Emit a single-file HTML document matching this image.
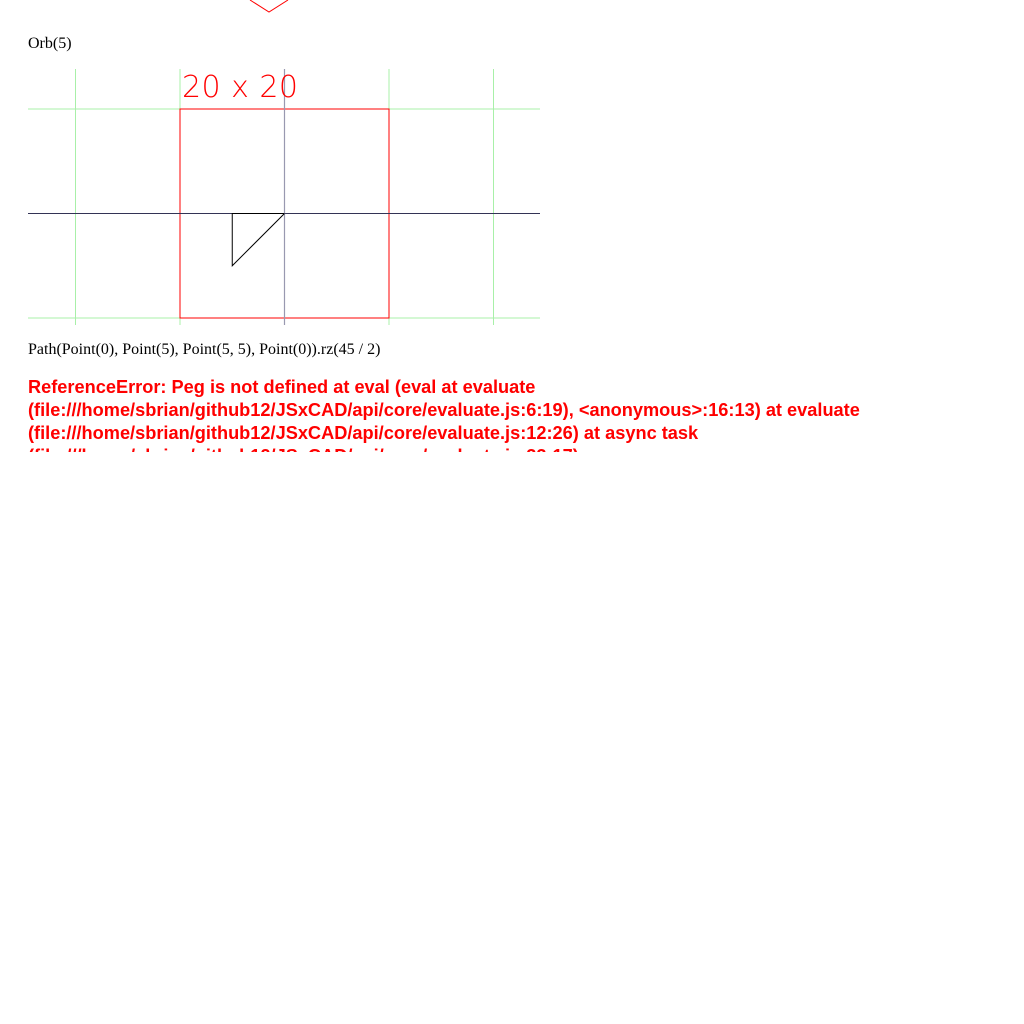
<!DOCTYPE html>
<html><head><meta charset="utf-8"><style>
html,body{margin:0;padding:0;background:#fff;width:1024px;height:1024px;overflow:hidden}
.t{position:absolute;left:28px;font-family:"Liberation Serif",serif;font-size:16px;color:#000;white-space:nowrap}
#err{position:absolute;left:28px;top:376px;width:880px;height:76px;overflow:hidden;font-family:"Liberation Sans",sans-serif;font-weight:bold;font-size:18.2px;line-height:23px;color:#f00}
</style></head><body>
<svg style="position:absolute;left:0;top:0" width="1024" height="20">
<polyline points="250,0 269,12 288,0" fill="none" stroke="#f00" stroke-width="1"/>
</svg>
<div class="t" style="top:35px">Orb(5)</div>
<svg id="view" style="position:absolute;left:28px;top:69px" width="512" height="256"></svg>
<div class="t" style="top:341px">Path(Point(0), Point(5), Point(5, 5), Point(0)).rz(45 / 2)</div>
<div id="err">ReferenceError: Peg is not defined at eval (eval at evaluate (file:///home/sbrian/github12/JSxCAD/api/core/evaluate.js:6:19), &lt;anonymous&gt;:16:13) at evaluate (file:///home/sbrian/github12/JSxCAD/api/core/evaluate.js:12:26) at async task (file:///home/sbrian/github12/JSxCAD/api/core/evaluate.js:33:17)</div>
<script>
const gridX = [-20, -10, 10, 20];
const gridY = [10, -10];
const boxSize = [20, 20];
const pathX = [0, -5, -5, 0];
const pathY = [0, 0, -5, 0];
const svg = document.getElementById('view');
const NS = 'http://www.w3.org/2000/svg';
const ox = 256.5, oy = 144.5, s = 10.45;
const X = v => ox + v * s, Y = v => oy - v * s;
function mk(tag, attrs) { const e = document.createElementNS(NS, tag); for (const k in attrs) e.setAttribute(k, attrs[k]); svg.appendChild(e); return e; }
gridX.forEach(v => { const e = mk('line', {x1: X(v), x2: X(v), y1: 0, y2: 256, stroke: '#a8f0a8', 'stroke-width': 1});

 });
gridY.forEach(v => { const e = mk('line', {x1: 0, x2: 512, y1: Y(v), y2: Y(v), stroke: '#a8f0a8', 'stroke-width': 1});

 });
const bx = mk('rect', {x: X(-boxSize[0]/2), y: Y(boxSize[1]/2), width: boxSize[0]*s, height: boxSize[1]*s, fill: 'none', stroke: '#f00', 'stroke-width': 1});


const ax = mk('line', {x1: 0, x2: 512, y1: oy, y2: oy, stroke: '#333355', 'stroke-width': 1});


const ay = mk('line', {x1: ox, x2: ox, y1: 0, y2: 256, stroke: '#9999b0', 'stroke-width': 1.2});


const pl = mk('polyline', {points: pathX.map((v, i) => X(v) + ',' + Y(pathY[i])).join(' '), fill: 'none', stroke: '#000', 'stroke-width': 1});


const tx = mk('text', {x: X(-boxSize[0]/2) + 2, y: 28, fill: '#f00', 'font-family': 'DejaVu Sans, sans-serif', 'font-weight': 200, 'font-size': 30, textLength: 116});
tx.textContent = boxSize[0] + ' x ' + boxSize[1];


</script>
</body></html>
